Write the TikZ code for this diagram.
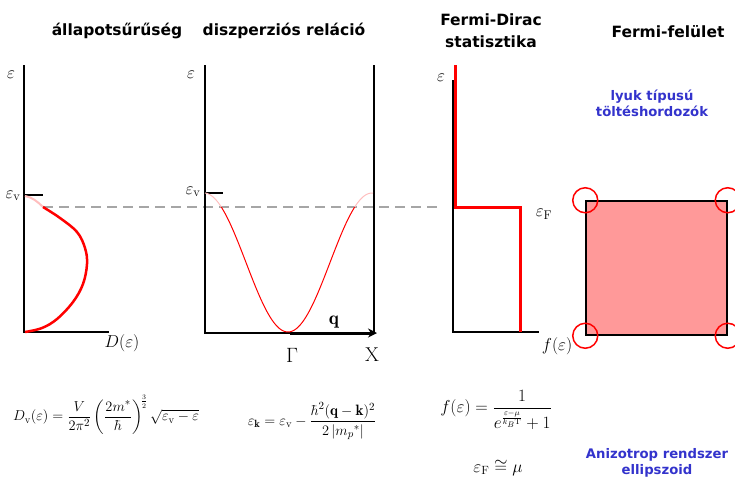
\documentclass[tikz,border=0pt]{standalone}
\usepackage{amsmath}
\usepackage{fontspec}
\usetikzlibrary{arrows.meta}
\newfontfamily\titlefont{DejaVu Sans}
\definecolor{hole}{RGB}{51,51,204}
\definecolor{fillpink}{RGB}{255,153,153}
\definecolor{fade}{RGB}{255,190,190}
\begin{document}
\begin{tikzpicture}[x=1pt,y=-1pt,
  ttl/.style={font=\titlefont\bfseries\fontsize{15.5}{22}\selectfont, align=center},
  bluetxt/.style={font=\titlefont\bfseries\fontsize{13.2}{16}\selectfont, text=hole, align=center},
  axis/.style={line width=2pt, black},
  lbl/.style={font=\fontsize{18}{20}\selectfont, inner sep=0pt},
  redthick/.style={line width=3pt, red},
  dashline/.style={line width=1.5pt, gray!70, dash pattern=on 10pt off 6pt}]
\useasboundingbox (0,0) rectangle (735,482);
% titles
\node[ttl] (t1) at (117,31) {állapotsűrűség};
\node[ttl] (t2) at (284,31) {diszperziós reláció};
\node[ttl] (t3) at (491,31) {Fermi-Dirac\\statisztika};
\node[ttl] (t4) at (668,32) {Fermi-felület};
\node[bluetxt] (b1) at (652,103) {lyuk típusú\\töltéshordozók};
\node[bluetxt] (b2) at (657,463) {Anizotrop rendszer\\ellipszoid};
% dashed level
\coordinate (dl) at (43,207);
\coordinate (dr) at (442,207);
\draw[dashline] (dl) -- (dr);
% panel 1
\coordinate (o1) at (24,332);
\coordinate (y1) at (24,65);
\coordinate (x1) at (109,332);
\draw[axis] (y1) -- (o1) -- (x1);
\coordinate (v1) at (24,195);
\coordinate (v1e) at (43,195);
\draw[axis] (v1) -- (v1e);
\node[lbl] (e1) at (11,75) {$\varepsilon$};
\node[lbl] (ev1) at (13,196) {$\varepsilon_{\mathrm{v}}$};
\node[lbl, font=\fontsize{17}{19}\selectfont] (d1) at (122,343) {$D(\varepsilon)$};
\draw[fade, line width=2pt] (25,196) .. controls (32,197) and (38,202) .. (43,207);
\draw[red, line width=2.5pt] plot[smooth, tension=0.6] coordinates {(43,207) (60,218) (77,232) (85,248) (87,264) (83,284) (73,302) (57,319) (42,328) (25,332)};
% panel 2
\coordinate (o2) at (205,333);
\coordinate (y2) at (205,65);
\coordinate (g2) at (290,333);
\coordinate (x2) at (377,333);
\coordinate (r2t) at (374,65);
\coordinate (r2b) at (374,333);
\draw[axis] (y2) -- (o2) -- (g2);
\draw[black, line width=1.5pt] (r2t) -- (r2b);
\draw[black, line width=3pt, -{Stealth[length=9pt,width=9pt]}] (g2) -- (x2);
\coordinate (v2) at (205,193);
\coordinate (v2e) at (223,193);
\draw[axis] (v2) -- (v2e);
\node[lbl] (e2) at (191,75) {$\varepsilon$};
\node[lbl] (ev2) at (193,192) {$\varepsilon_{\mathrm{v}}$};
\node[font=\fontsize{20}{22}\selectfont, inner sep=0pt] (gam) at (292,355) {$\Gamma$};
\node[font=\fontsize{20}{22}\selectfont, inner sep=0pt] (xx) at (372,355) {X};
\node[font=\fontsize{19}{21}\selectfont, inner sep=0pt] (qq) at (334,322) {$\mathbf{q}$};
\draw[fade, line width=1pt] plot[domain=205:221.3, samples=20] (\x, {262.5+69.5*cos(180*(\x-288)/84)});
\draw[fade, line width=1pt] plot[domain=354.7:373, samples=20] (\x, {262.5+69.5*cos(180*(\x-288)/84)});
\draw[red, line width=1pt] plot[domain=221.3:354.7, samples=100] (\x, {262.5+69.5*cos(180*(\x-288)/84)});
% panel 3
\coordinate (o3) at (453,332);
\coordinate (y3) at (453,80);
\coordinate (x3) at (539,332);
\draw[axis] (y3) -- (o3) -- (x3);
\coordinate (r3a) at (455,65);
\coordinate (r3b) at (455,207);
\coordinate (r3c) at (520,207);
\coordinate (r3d) at (520,332);
\draw[redthick] (r3a) -- (r3b) -- (r3c) -- (r3d);
\node[lbl] (e3) at (441,78) {$\varepsilon$};
\node[lbl] (ef3) at (544,214) {$\varepsilon_{\mathrm{F}}$};
\node[lbl, font=\fontsize{17}{19}\selectfont] (f3) at (557,346) {$f(\varepsilon)$};
% panel 4
\node[draw=black, line width=1.5pt, fill=fillpink, minimum width=141pt, minimum height=134pt, inner sep=0pt] (sq) at (656.5,268) {};
\foreach \c [count=\i] in {north west, north east, south west, south east}
  \node[draw=red, line width=1.5pt, circle, minimum size=25pt, inner sep=0pt] (c\i) at (sq.\c) {};
% formulas
\node[font=\fontsize{15}{17}\selectfont, inner sep=0pt] (f1) at (106,415) {$D_{\mathrm{v}}(\varepsilon)=\dfrac{V}{2\pi^2}\left(\dfrac{2m^*}{\hbar}\right)^{\!\frac{3}{2}}\sqrt{\varepsilon_{\mathrm{v}}-\varepsilon}$};
\node[font=\fontsize{15}{17}\selectfont, inner sep=0pt] (f2) at (312,421) {$\varepsilon_{\mathbf{k}}=\varepsilon_{\mathrm{v}}-\dfrac{\hbar^2(\mathbf{q}-\mathbf{k})^2}{2\left|m_p{}^*\right|}$};
\node[font=\fontsize{16}{18}\selectfont, inner sep=0pt] (f3f) at (496,410) {$f(\varepsilon)=\dfrac{1}{e^{\frac{\varepsilon-\mu}{k_B\mathrm{T}}}+1}$};
\node[font=\fontsize{17}{19}\selectfont, inner sep=0pt] (f4) at (498,468) {$\varepsilon_{\mathrm{F}}\cong\mu$};
\end{tikzpicture}
\end{document}
